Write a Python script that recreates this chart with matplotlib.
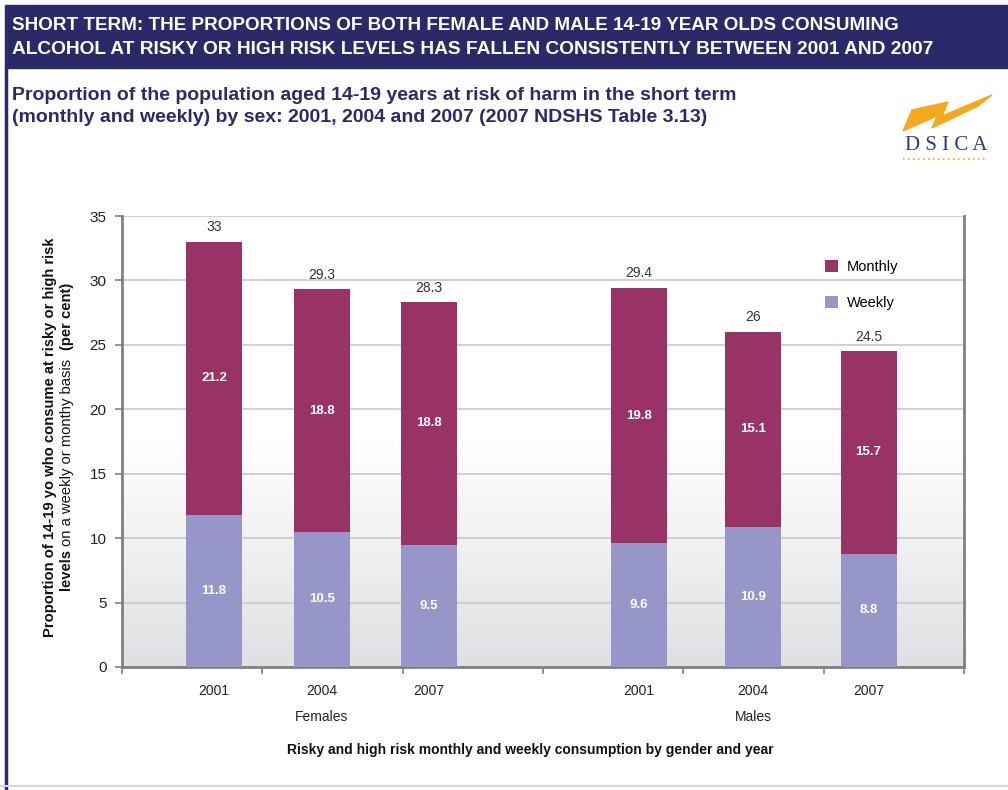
import numpy as np
import matplotlib
matplotlib.use("Agg")
import matplotlib.pyplot as plt
from matplotlib.patches import Rectangle, Polygon
from matplotlib.lines import Line2D

plt.rcParams['font.family'] = ['Liberation Sans', 'DejaVu Sans']

# --- data (2007 NDSHS Table 3.13) ---
groups = ['Females', 'Males']
years = ['2001', '2004', '2007', '2001', '2004', '2007']
weekly = [11.8, 10.5, 9.5, 9.6, 10.9, 8.8]
monthly = [21.2, 18.8, 18.8, 19.8, 15.1, 15.7]
totals = [33, 29.3, 28.3, 29.4, 26, 24.5]

# bar layout along the category axis (tick boundaries at integers 0..6)
xpos = [0.656, 1.425, 2.188, 3.685, 4.497, 5.32]
bar_w = 0.40

c_month = '#993366'
c_week = '#9696c8'
navy = '#2b2a68'

fig = plt.figure(figsize=(10.08, 7.9), dpi=100)

# header band and page frame
fig.patches.append(Rectangle((5 / 1008, 1 - 68 / 790), 1, 63 / 790,
                             transform=fig.transFigure, color=navy, zorder=0))
fig.add_artist(Line2D([6 / 1008, 6 / 1008], [0, 1 - 68 / 790],
                      transform=fig.transFigure, color=navy, lw=2.5))
fig.add_artist(Line2D([0, 1], [4 / 790, 4 / 790],
                      transform=fig.transFigure, color='#d8d8e0', lw=1.5))

fig.text(12 / 1008, 1 - 25 / 790,
         'SHORT TERM: THE PROPORTIONS OF BOTH FEMALE AND MALE 14-19 YEAR OLDS CONSUMING',
         color='white', fontsize=13.6, fontweight='bold', va='center', ha='left')
fig.text(12 / 1008, 1 - 50 / 790,
         'ALCOHOL AT RISKY OR HIGH RISK LEVELS HAS FALLEN CONSISTENTLY BETWEEN 2001 AND 2007',
         color='white', fontsize=13.8, fontweight='bold', va='center', ha='left')
fig.text(12 / 1008, 1 - 95 / 790,
         'Proportion of the population aged 14-19 years at risk of harm in the short term',
         color=navy, fontsize=14, fontweight='bold', va='center', ha='left')
fig.text(12 / 1008, 1 - 118 / 790,
         '(monthly and weekly) by sex: 2001, 2004 and 2007 (2007 NDSHS Table 3.13)',
         color=navy, fontsize=14, fontweight='bold', va='center', ha='left')

# DSICA logo
bolt = np.array([[903, 131], [912, 110], [948, 102], [942, 116], [992, 95],
                 [978, 106], [932, 128], [937, 116]])
fig.patches.append(Polygon(np.column_stack([bolt[:, 0] / 1008, 1 - bolt[:, 1] / 790]),
                           closed=True, transform=fig.transFigure,
                           color='#f4a81d', zorder=2))
fig.text(946 / 1008, 1 - 145 / 790, 'D S I C A', color='#2b3a78', fontsize=15,
         family='Liberation Serif', ha='center', va='center')
fig.add_artist(Line2D([903 / 1008, 988 / 1008], [1 - 159 / 790, 1 - 159 / 790],
                      transform=fig.transFigure, color='#f4a81d', lw=1.2,
                      ls=(0, (1, 2))))

# --- chart ---
ax = fig.add_axes([122 / 1008, 1 - 667 / 790, 842 / 1008, 451 / 790])
ax.set_xlim(0, 6)
ax.set_ylim(0, 35)

grad = np.linspace(0, 1, 256).reshape(-1, 1)
shade = np.clip(grad / 0.5, 0, 1)
bg = np.dstack([0.875 + 0.125 * shade, 0.878 + 0.122 * shade,
                0.89 + 0.11 * shade])
ax.imshow(bg, extent=[0, 6, 0, 35], origin='lower', aspect='auto', zorder=0)

ax.set_yticks(np.arange(0, 36, 5))
ax.yaxis.grid(True, color='#c8c8c8', lw=1.2, zorder=1)
ax.set_axisbelow(True)

ax.bar(xpos, weekly, width=bar_w, color=c_week, zorder=3, label='Weekly')
ax.bar(xpos, monthly, width=bar_w, bottom=weekly, color=c_month, zorder=3,
       label='Monthly')

for x, w, m, t in zip(xpos, weekly, monthly, totals):
    ax.text(x, w / 2, f'{w}', color='white', fontsize=9.5, fontweight='bold',
            ha='center', va='center', zorder=4)
    ax.text(x, w + m / 2, f'{m}', color='white', fontsize=9.5, fontweight='bold',
            ha='center', va='center', zorder=4)
    ax.text(x, t + 0.6, f'{t:g}', color='#333333', fontsize=10,
            ha='center', va='bottom', zorder=4)

for side in ['left', 'bottom', 'right']:
    ax.spines[side].set_color('#808080')
    ax.spines[side].set_linewidth(2)
ax.spines['top'].set_visible(False)

ax.set_xticks(xpos)
ax.set_xticklabels(years, fontsize=10, color='#222222')
ax.set_xticks(np.arange(0, 7), minor=True)
ax.tick_params(axis='x', which='major', length=0, pad=12)
ax.tick_params(axis='x', which='minor', length=5, color='#808080', width=1.2)
ax.tick_params(axis='y', length=5, color='#808080', width=1.2, labelsize=11,
               labelcolor='#222222', pad=6)

for g, gx in zip(groups, [xpos[1], xpos[4]]):
    ax.annotate(g, xy=(gx, 0), xycoords=('data', 'axes fraction'),
                xytext=(0, -36), textcoords='offset points', ha='center',
                va='center', fontsize=10, color='#222222')

fig.text(530 / 1008, 1 - 750 / 790,
         'Risky and high risk monthly and weekly consumption by gender and year',
         ha='center', va='center', fontsize=10, fontweight='bold', color='#111111')

handles, labels = ax.get_legend_handles_labels()
ax.legend(handles[::-1], labels[::-1], loc='upper left',
          bbox_to_anchor=((812 - 122) / 842, (667 - 247) / 451), frameon=False,
          fontsize=10.5, labelspacing=1.5, handlelength=0.9, handleheight=0.9,
          handletextpad=0.6)

# y-axis title with mixed weights, drawn piece by piece
fig.canvas.draw()
renderer = fig.canvas.get_renderer()


def vertical_pieces(x_px, center_px, pieces):
    objs = []
    for txt, wt in pieces:
        objs.append(fig.text(x_px / 1008, 0, txt, rotation=90, fontsize=10.6,
                             fontweight=wt, color='#111111', ha='left',
                             va='center', rotation_mode='anchor'))
    lengths = [o.get_window_extent(renderer).height for o in objs]
    y = (790 - center_px) - sum(lengths) / 2
    for o, L in zip(objs, lengths):
        o.set_position((x_px / 1008, y / 790))
        y += L


vertical_pieces(50, 437, [('Proportion of 14-19 yo who consume at risky or high risk', 'bold')])
vertical_pieces(67, 437, [('levels ', 'bold'), ('on a weekly or monthy basis  ', 'normal'),
                          ('(per cent)', 'bold')])

fig.savefig('out.png', dpi=100)
